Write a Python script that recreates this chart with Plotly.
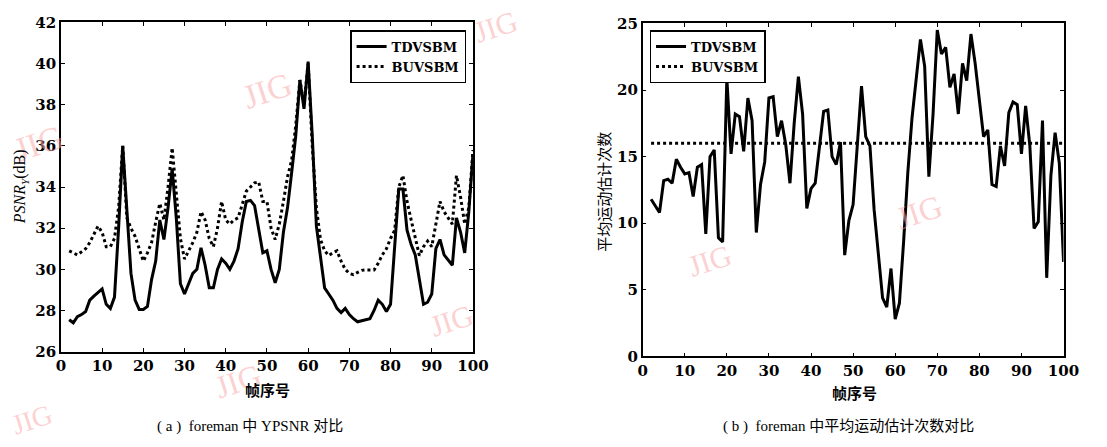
import plotly.graph_objects as go

# ---------------- data ----------------
frames = list(range(2, 101))

# (a) PSNR_Y (dB)
tdv_psnr = [27.55, 27.4, 27.7, 27.8, 27.95, 28.5, 28.7, 28.9, 29.05, 28.3,
            28.1, 28.65, 32.0, 36.0, 33.0, 29.8, 28.5, 28.05, 28.05, 28.2,
            29.5, 30.4, 32.4, 31.45, 33.0, 34.9, 32.5, 29.3, 28.8, 29.3,
            29.8, 30.0, 31.05, 30.2, 29.1, 29.1, 30.0, 30.5, 30.3, 30.0,
            30.4, 31.0, 32.3, 33.3, 33.35, 33.1, 32.0, 30.8, 30.9, 30.0,
            29.35, 30.0, 31.8, 33.0, 34.7, 36.5, 39.2, 37.8, 40.1, 36.5,
            32.1, 30.5, 29.1, 28.8, 28.5, 28.1, 27.9, 28.1, 27.8, 27.6,
            27.45, 27.5, 27.55, 27.6, 28.0, 28.5, 28.3, 27.95, 28.3, 31.0,
            33.9, 33.9, 31.9, 31.2, 30.7, 29.5, 28.3, 28.4, 28.8, 31.0,
            31.45, 30.7, 30.45, 30.2, 32.5, 31.8, 30.8, 32.8, 35.6]

buv_psnr = [30.9, 30.8, 30.7, 30.85, 31.0, 31.3, 31.7, 32.1, 31.8, 31.1,
            31.1, 31.5, 33.0, 36.0, 32.5, 32.0, 31.6, 31.0, 30.4, 30.8,
            31.3, 32.3, 33.2, 32.4, 34.0, 35.9, 33.5, 31.5, 30.5, 30.9,
            31.3, 31.8, 32.8, 32.4, 31.5, 31.1, 32.0, 33.3, 32.4, 32.2,
            32.4, 32.5, 33.2, 33.8, 34.0, 34.2, 34.25, 33.3, 33.3, 32.0,
            31.45, 32.2, 33.3, 34.5, 35.3, 37.0, 39.2, 38.0, 40.0, 36.0,
            33.0, 31.45, 30.9, 30.67, 30.8, 30.9, 30.4, 30.0, 29.8, 29.74,
            29.85, 29.95, 29.97, 29.97, 29.97, 30.3, 30.7, 31.0, 31.5, 31.9,
            34.0, 34.56, 33.3, 32.4, 31.5, 30.67, 31.1, 31.37, 31.1, 32.2,
            33.3, 32.8, 32.5, 32.2, 34.56, 33.5, 32.2, 33.0, 35.8]

# (b) average motion-estimation count
tdv_count = [11.8, 11.3, 10.8, 13.2, 13.3, 13.0, 14.8, 14.2, 13.7, 13.8,
             12.0, 14.2, 14.4, 9.2, 15.0, 15.5, 8.9, 8.6, 20.9, 15.2,
             18.2, 18.0, 15.4, 19.4, 17.7, 9.3, 12.9, 14.6, 19.4, 19.5,
             16.5, 17.7, 15.9, 13.0, 17.5, 21.0, 18.2, 11.1, 12.6, 13.0,
             15.5, 18.4, 18.5, 15.0, 14.4, 16.1, 7.6, 10.2, 11.4, 16.0,
             20.3, 16.5, 15.8, 11.0, 7.8, 4.4, 3.7, 6.6, 2.8, 4.0,
             8.6, 13.8, 17.9, 21.0, 23.8, 21.8, 13.5, 18.2, 24.5, 22.7,
             23.2, 20.2, 21.2, 18.2, 22.0, 20.7, 24.2, 22.0, 19.0, 16.5,
             17.0, 12.9, 12.75, 15.8, 14.3, 18.3, 19.1, 18.9, 15.2, 18.8,
             15.8, 9.6, 10.1, 17.7, 5.9, 13.6, 16.8, 14.5, 7.1]
buv_count_frames = [2, 100]
buv_count = [16.0, 16.0]

series_names = ["TDVSBM", "BUVSBM"]
psnr_ticks = [26, 28, 30, 32, 34, 36, 38, 40, 42]
count_ticks = [0, 5, 10, 15, 20, 25]
frame_ticks = [0, 10, 20, 30, 40, 50, 60, 70, 80, 90, 100]

# ---------------- figure ----------------
W, H = 1107, 447
SERIF = "Liberation Serif"
BSERIF = "DejaVu Serif"
CJK = "Noto Sans CJK SC"

def bold(v):
    return "<b>%s</b>" % v

fig = go.Figure()

fig.add_trace(go.Scatter(x=frames, y=tdv_psnr, mode="lines", name=bold(series_names[0]),
                         line=dict(color="black", width=3, dash="solid"),
                         xaxis="x", yaxis="y", legend="legend"))
fig.add_trace(go.Scatter(x=frames, y=buv_psnr, mode="lines", name=bold(series_names[1]),
                         line=dict(color="black", width=3, dash="dot"),
                         xaxis="x", yaxis="y", legend="legend"))
fig.add_trace(go.Scatter(x=frames, y=tdv_count, mode="lines", name=bold(series_names[0]),
                         line=dict(color="black", width=3, dash="solid"),
                         xaxis="x2", yaxis="y2", legend="legend2"))
fig.add_trace(go.Scatter(x=buv_count_frames, y=buv_count, mode="lines", name=bold(series_names[1]),
                         line=dict(color="black", width=3, dash="dot"),
                         xaxis="x2", yaxis="y2", legend="legend2"))

def px(x):
    return x / W

def py(y):
    return 1 - y / H

axis_common = dict(showline=True, linecolor="black", linewidth=1.5, mirror="allticks",
                   ticks="inside", ticklen=4, tickcolor="black", showgrid=False,
                   zeroline=False,
                   tickfont=dict(family=BSERIF, size=15, color="black"))

fig.update_layout(
    width=W, height=H,
    margin=dict(l=0, r=0, t=0, b=0),
    paper_bgcolor="white", plot_bgcolor="white",
    showlegend=True,
    xaxis=dict(domain=[px(57), px(477)], range=[0, 100], tickvals=frame_ticks,
               ticktext=[bold(t) for t in frame_ticks], anchor="y", **axis_common),
    yaxis=dict(domain=[py(357), py(14)], range=[26, 42], tickvals=psnr_ticks,
               ticktext=[bold(t) for t in psnr_ticks], anchor="x", **axis_common),
    xaxis2=dict(domain=[px(650), px(1079)], range=[0, 100], tickvals=frame_ticks,
                ticktext=[bold(t) for t in frame_ticks], anchor="y2", **axis_common),
    yaxis2=dict(domain=[py(362), py(15)], range=[0, 25], tickvals=count_ticks,
                ticktext=[bold(t) for t in count_ticks], anchor="x2", **axis_common),
    legend=dict(x=px(470), y=py(22), xanchor="right", yanchor="top",
                bgcolor="white", bordercolor="black", borderwidth=1.5,
                font=dict(family=BSERIF, size=13, color="black"),
                tracegroupgap=0, itemwidth=30),
    legend2=dict(x=px(657), y=py(22), xanchor="left", yanchor="top",
                 bgcolor="white", bordercolor="black", borderwidth=1.5,
                 font=dict(family=BSERIF, size=13, color="black"),
                 tracegroupgap=0, itemwidth=30),
)

annotations = []
# watermarks
for (x, y, s) in [(34, 140, 34), (268, 85, 34), (500, 18, 30), (238, 388, 32),
                  (455, 325, 30), (28, 428, 28), (718, 262, 30), (932, 212, 32)]:
    annotations.append(dict(x=px(x), y=py(y), xref="paper", yref="paper", text="JIG",
                            showarrow=False, textangle=-18, xanchor="center", yanchor="middle",
                            font=dict(family=SERIF, size=s, color="rgba(250,170,170,0.55)")))
# axis titles
annotations += [
    dict(x=px(16), y=py(185), xref="paper", yref="paper",
         text="<i>PSNR</i><sub><i>Y</i></sub>(dB)", showarrow=False, textangle=-90,
         xanchor="center", yanchor="middle",
         font=dict(family=SERIF, size=16, color="black")),
    dict(x=px(610), y=py(190), xref="paper", yref="paper",
         text="平均运动估计次数", showarrow=False, textangle=-90,
         xanchor="center", yanchor="middle",
         font=dict(family=CJK, size=15, color="black")),
    dict(x=px(268), y=py(396), xref="paper", yref="paper", text="<b>帧序号</b>",
         showarrow=False, xanchor="center", yanchor="middle",
         font=dict(family=CJK, size=15, color="black")),
    dict(x=px(866), y=py(400), xref="paper", yref="paper", text="<b>帧序号</b>",
         showarrow=False, xanchor="center", yanchor="middle",
         font=dict(family=CJK, size=15, color="black")),
    dict(x=px(250), y=py(435), xref="paper", yref="paper", text="( a )  foreman 中 YPSNR 对比",
         showarrow=False, xanchor="center", yanchor="middle",
         font=dict(family=SERIF + ", " + CJK, size=15, color="black")),
    dict(x=px(860), y=py(435), xref="paper", yref="paper", text="( b )  foreman 中平均运动估计次数对比",
         showarrow=False, xanchor="center", yanchor="middle",
         font=dict(family=SERIF + ", " + CJK, size=15, color="black")),
]
fig.update_layout(annotations=annotations)

fig.write_html("out.html")
